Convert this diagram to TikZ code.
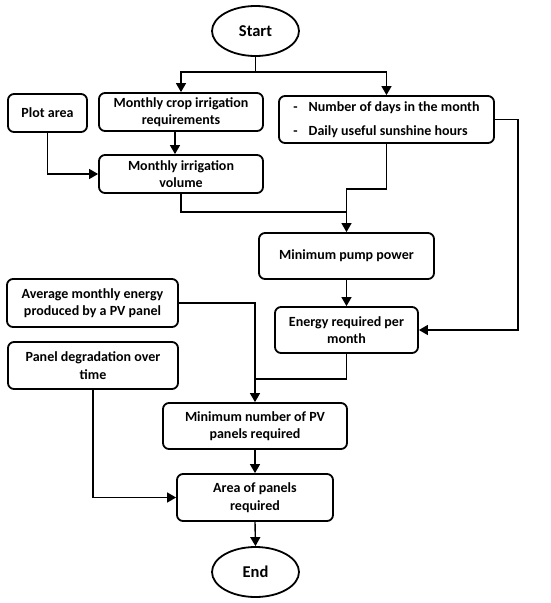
\documentclass[tikz,border=0pt]{standalone}
\usepackage{fontspec}
\setmainfont{Carlito}
\usetikzlibrary{arrows.meta,shapes.geometric,calc}
\begin{document}
\begin{tikzpicture}[x=1pt,y=-1pt,
  box/.style={draw,line width=1.8pt,rounded corners=6pt,align=center,inner sep=0pt,
    font=\fontsize{14}{17.5}\selectfont\bfseries},
  term/.style={draw,ellipse,line width=1.8pt,inner sep=0pt,minimum width=87pt,minimum height=50pt,
    font=\fontsize{16.5}{18}\selectfont\bfseries},
  conn/.style={line width=1.4pt},
  arr/.style={conn,-{Triangle[length=9pt,width=10pt]}}]
\useasboundingbox (0,0) rectangle (550,603);
\node[term] (start) at (255.5,31) {Start};
\node[term] (end) at (255.5,572) {End};
\node[box,minimum width=79pt,minimum height=38pt] (plot) at (47.5,113) {Plot area};
\node[box,minimum width=164pt,minimum height=38pt] (crop) at (181,112) {Monthly crop irrigation\\requirements};
\node[box,minimum width=215pt,minimum height=47pt,align=left] (days) at (386.5,119.5)
  {-\hspace{11pt}Number of days in the month\\[7pt]-\hspace{11pt}Daily useful sunshine hours};
\node[box,minimum width=164pt,minimum height=38pt] (vol) at (181,174) {Monthly irrigation\\volume};
\node[box,minimum width=175pt,minimum height=46pt] (pump) at (346.5,256) {Minimum pump power};
\node[box,minimum width=143pt,minimum height=46pt] (energy) at (346.5,330) {Energy required per\\month};
\node[box,minimum width=171pt,minimum height=48pt] (avg) at (92.5,303) {Average monthly energy\\produced by a PV panel};
\node[box,minimum width=170pt,minimum height=47pt] (degr) at (93,365.5) {Panel degradation over\\time};
\node[box,minimum width=184pt,minimum height=46pt] (minn) at (255,426) {Minimum number of PV\\panels required};
\node[box,minimum width=156pt,minimum height=47pt] (area) at (255,497.5) {Area of panels\\required};
\coordinate (split) at (255.5,72);
\coordinate (j1) at (346.5,212);
\coordinate (j2) at (255,379);
\draw[conn] (start.south) -- (split);
\draw[arr] (split) -| (crop.north);
\draw[arr] (split) -| (days.north);
\draw[arr] ([xshift=-6pt]crop.south) -- ([xshift=-6pt]vol.north);
\draw[arr] (plot.south) |- (vol.west);
\draw[conn] (vol.south) |- (j1);
\draw[conn] (days.south) -- ++(0,45) -| (j1);
\draw[arr] (j1) -- (pump.north);
\draw[arr] (days.east) -- ++(23,0) |- (energy.east);
\draw[arr] (pump.south) -- (energy.north);
\draw[arr] (avg.east) -| (minn.north);
\draw[conn] (energy.south) |- (j2);
\draw[arr] (minn.south) -- (area.north);
\draw[arr] (degr.south) |- (area.west);
\draw[arr] (area.south) -- (end.north);
\end{tikzpicture}
\end{document}
